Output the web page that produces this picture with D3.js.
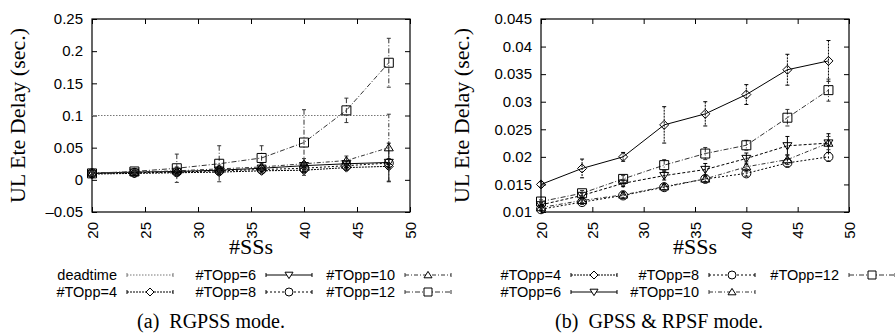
<!DOCTYPE html>
<html lang="en">
<head>
<meta charset="UTF-8">
<title>UL Ete Delay</title>
<script src="https://cdn.jsdelivr.net/npm/d3@7"></script>
<style>
    body { margin: 0; background: #fff; }
    svg { display: block; }
    .tick text { font-family: "Liberation Sans", Arial, sans-serif; font-size: 15px; fill: #000; }
</style>
</head>
<body>
<svg id="chart" width="895" height="333"></svg>
<script>
// number of SSs on the x axis
const xs = [20, 24, 28, 32, 36, 40, 44, 48]
const xTicks = [20, 25, 30, 35, 40, 45, 50]

// (a) RGPSS mode
const deadtime = [0.1, 0.1, 0.1, 0.1, 0.1, 0.1, 0.1, 0.1]
const a4 = [0.009, 0.010, 0.011, 0.012, 0.014, 0.015, 0.019, 0.021]
const a4Err = [0.003, 0.002, 0.004, 0.004, 0.003, 0.004, 0.004, 0.004]
const a6 = [0.010, 0.012, 0.013, 0.015, 0.018, 0.022, 0.025, 0.027]
const a6Err = [0.003, 0.002, 0.004, 0.005, 0.004, 0.006, 0.005, 0.030]
const a8 = [0.010, 0.011, 0.012, 0.014, 0.016, 0.018, 0.022, 0.026]
const a8Err = [0.003, 0.002, 0.004, 0.004, 0.003, 0.005, 0.004, 0.006]
const a10 = [0.011, 0.012, 0.014, 0.017, 0.020, 0.025, 0.030, 0.050]
const a10Err = [0.004, 0.003, 0.006, 0.006, 0.005, 0.008, 0.007, 0.052]
const a12 = [0.010, 0.013, 0.018, 0.025, 0.034, 0.058, 0.108, 0.182]
const a12Err = [0.003, 0.003, 0.022, 0.028, 0.019, 0.051, 0.019, 0.038]
const aTicks = [-0.05, 0, 0.05, 0.1, 0.15, 0.2, 0.25]

// (b) GPSS & RPSF mode
const b4 = [0.0150, 0.0179, 0.0200, 0.0258, 0.0278, 0.0313, 0.0358, 0.0374]
const b4Err = [0.0005, 0.0017, 0.0008, 0.0033, 0.0022, 0.0018, 0.0028, 0.0037]
const b6 = [0.0113, 0.0130, 0.0152, 0.0166, 0.0177, 0.0197, 0.0220, 0.0225]
const b6Err = [0.0004, 0.0005, 0.0006, 0.0008, 0.0011, 0.0010, 0.0017, 0.0017]
const b8 = [0.0105, 0.0118, 0.0130, 0.0145, 0.0160, 0.0170, 0.0189, 0.0200]
const b8Err = [0.0003, 0.0004, 0.0005, 0.0005, 0.0005, 0.0005, 0.0007, 0.0008]
const b10 = [0.0108, 0.0121, 0.0131, 0.0146, 0.0160, 0.0182, 0.0195, 0.0225]
const b10Err = [0.0003, 0.0004, 0.0007, 0.0006, 0.0006, 0.0009, 0.0009, 0.0012]
const b12 = [0.0119, 0.0134, 0.0160, 0.0185, 0.0206, 0.0221, 0.0271, 0.0321]
const b12Err = [0.0003, 0.0005, 0.0006, 0.0010, 0.0011, 0.0009, 0.0015, 0.0020]
const bTicks = [0.01, 0.015, 0.02, 0.025, 0.03, 0.035, 0.04, 0.045]

// line styles per series
const styles = {
    deadtime: { dash: '1.5,1.5', color: '#777', marker: null },
    t4: { dash: '2,1', color: '#000', marker: 'diamond' },
    t6: { dash: null, color: '#000', marker: 'tridown' },
    t8: { dash: '2,2', color: '#000', marker: 'circle' },
    t10: { dash: '4,2,1,2', color: '#333', marker: 'triup' },
    t12: { dash: '5,2,1,2', color: '#333', marker: 'square' }
}

const svg = d3.select('#chart')
const serif = '"Liberation Serif", "Times New Roman", serif'
const sans = '"Liberation Sans", Arial, sans-serif'

// marker path centred on 0,0
function markerPath(type, s) {
    s = s || 4.5
    switch (type) {
        case 'diamond': return `M0,${-s}L${s},0L0,${s}L${-s},0Z`
        case 'tridown': return `M${-s},${-s * 0.7}L${s},${-s * 0.7}L0,${s * 0.9}Z`
        case 'triup': return `M${-s},${s * 0.7}L${s},${s * 0.7}L0,${-s * 0.9}Z`
        case 'square': return `M${-s},${-s}H${s}V${s}H${-s}Z`
        case 'circle': return d3.arc()({ innerRadius: 0, outerRadius: s, startAngle: 0, endAngle: 2 * Math.PI })
    }
    return ''
}

function drawPanel(opt) {
    let g = svg.append('g')
    let x = d3.scaleLinear().domain([20, 50]).range([opt.left, opt.right])
    let y = d3.scaleLinear().domain(opt.yDomain).range([opt.bottom, opt.top])

    // axes: ticks inward, mirrored on top/right
    g.append('g')
        .attr('transform', `translate(0,${opt.bottom})`)
        .call(d3.axisBottom(x).tickValues(xTicks).tickSize(-5).tickPadding(10).tickFormat(d3.format('d')))
        .call(a => a.selectAll('text')
            .attr('transform', 'rotate(-90)')
            .attr('text-anchor', 'end')
            .attr('dy', '0.35em')
            .attr('x', -10)
            .attr('y', 0))
    g.append('g')
        .attr('transform', `translate(0,${opt.top})`)
        .call(d3.axisTop(x).tickValues(xTicks).tickSize(-5).tickFormat(''))
    g.append('g')
        .attr('transform', `translate(${opt.left},0)`)
        .call(d3.axisLeft(y).tickValues(opt.yTicks).tickSize(-5).tickPadding(9).tickFormat(opt.fmt))
    g.append('g')
        .attr('transform', `translate(${opt.right},0)`)
        .call(d3.axisRight(y).tickValues(opt.yTicks).tickSize(-5).tickFormat(''))
    g.selectAll('.domain').remove()
    g.selectAll('.tick line').attr('stroke', '#000')
    g.append('rect')
        .attr('x', opt.left).attr('y', opt.top)
        .attr('width', opt.right - opt.left).attr('height', opt.bottom - opt.top)
        .attr('fill', 'none').attr('stroke', '#000').attr('stroke-width', 1.2)

    let line = d3.line().x(d => x(d.x)).y(d => y(d.y))

    opt.series.forEach(s => {
        let st = styles[s.key]
        let dash = s.dash !== undefined ? s.dash : st.dash
        let pts = xs.map((v, i) => ({ x: v, y: s.values[i], e: s.err ? s.err[i] : 0 }))
        let sg = g.append('g')
        // error bars
        if (s.err) {
            pts.forEach(p => {
                let x0 = x(p.x), y1 = y(p.y + p.e), y2 = y(Math.max(p.y - p.e, opt.yDomain[0]))
                sg.append('line').attr('x1', x0).attr('x2', x0).attr('y1', y1).attr('y2', y2)
                    .attr('stroke', st.color).attr('stroke-dasharray', st.dash || null).attr('stroke-width', 1)
                ;[y1, y2].forEach(yy => sg.append('line')
                    .attr('x1', x0 - 2).attr('x2', x0 + 2).attr('y1', yy).attr('y2', yy)
                    .attr('stroke', st.color).attr('stroke-width', 1))
            })
        }
        sg.append('path').datum(pts).attr('d', line)
            .attr('fill', 'none').attr('stroke', st.color).attr('stroke-width', 1)
            .attr('stroke-dasharray', dash)
        if (st.marker) {
            sg.selectAll('.mk').data(pts).enter().append('path')
                .attr('class', 'mk')
                .attr('d', markerPath(st.marker))
                .attr('transform', d => `translate(${x(d.x)},${y(d.y)})`)
                .attr('fill', 'none').attr('stroke', '#000').attr('stroke-width', 1)
        }
    })

    // axis titles
    svg.append('text')
        .attr('transform', `translate(${opt.labelX},${(opt.top + opt.bottom) / 2}) rotate(-90)`)
        .attr('text-anchor', 'middle').attr('dy', '0.35em')
        .style('font-family', serif).style('font-size', '22px')
        .text('UL Ete Delay (sec.)')
    svg.append('text')
        .attr('x', (opt.left + opt.right) / 2).attr('y', 254)
        .attr('text-anchor', 'middle')
        .style('font-family', serif).style('font-size', '22px')
        .text('#SSs')

    // legend
    opt.legend.forEach(l => {
        let st = styles[l.key]
        svg.append('text')
            .attr('x', l.x).attr('y', l.y).attr('text-anchor', 'end')
            .style('font-family', sans).style('font-size', '14.5px')
            .text(l.label)
        let x1 = l.x + 10, x2 = l.x + 56, yy = l.y - 5
        svg.append('line').attr('x1', x1).attr('x2', x2).attr('y1', yy).attr('y2', yy)
            .attr('stroke', st.color).attr('stroke-dasharray', st.dash)
        ;[x1, x2].forEach(xx => svg.append('line')
            .attr('x1', xx).attr('x2', xx).attr('y1', yy - 2).attr('y2', yy + 2).attr('stroke', st.color))
        if (st.marker) {
            svg.append('path').attr('d', markerPath(st.marker, 4))
                .attr('transform', `translate(${(x1 + x2) / 2},${yy})`)
                .attr('fill', '#fff').attr('stroke', '#000')
        }
    })

    svg.append('text')
        .attr('x', opt.captionX).attr('y', 328)
        .attr('text-anchor', 'middle')
        .style('font-family', serif).style('font-size', '20px')
        .style('white-space', 'pre')
        .text(opt.caption)
}

drawPanel({
    left: 92, right: 410, top: 19, bottom: 212,
    yDomain: [-0.05, 0.25], yTicks: aTicks,
    fmt: d => d < 0 ? '\u2013' + Math.abs(d) : String(d),
    labelX: 17, captionX: 211,
    caption: '(a)  RGPSS mode.',
    series: [
        { key: 'deadtime', values: deadtime },
        { key: 't4', values: a4, err: a4Err },
        { key: 't6', values: a6, err: a6Err },
        { key: 't8', values: a8, err: a8Err },
        { key: 't10', values: a10, err: a10Err },
        { key: 't12', values: a12, err: a12Err }
    ],
    legend: [
        { key: 'deadtime', label: 'deadtime', x: 117, y: 280 },
        { key: 't4', label: '#TOpp=4', x: 117, y: 297 },
        { key: 't6', label: '#TOpp=6', x: 256, y: 280 },
        { key: 't8', label: '#TOpp=8', x: 256, y: 297 },
        { key: 't10', label: '#TOpp=10', x: 395, y: 280 },
        { key: 't12', label: '#TOpp=12', x: 395, y: 297 }
    ]
})

drawPanel({
    left: 541, right: 849, top: 19, bottom: 212,
    yDomain: [0.01, 0.045], yTicks: bTicks,
    fmt: d => String(d),
    labelX: 461, captionX: 659,
    caption: '(b)  GPSS & RPSF mode.',
    series: [
        { key: 't4', values: b4, err: b4Err, dash: null },
        { key: 't6', values: b6, err: b6Err, dash: '3,2' },
        { key: 't8', values: b8, err: b8Err },
        { key: 't10', values: b10, err: b10Err },
        { key: 't12', values: b12, err: b12Err }
    ],
    legend: [
        { key: 't4', label: '#TOpp=4', x: 561, y: 280 },
        { key: 't6', label: '#TOpp=6', x: 561, y: 297 },
        { key: 't8', label: '#TOpp=8', x: 699, y: 280 },
        { key: 't10', label: '#TOpp=10', x: 699, y: 297 },
        { key: 't12', label: '#TOpp=12', x: 839, y: 280 }
    ]
})
</script>
</body>
</html>
